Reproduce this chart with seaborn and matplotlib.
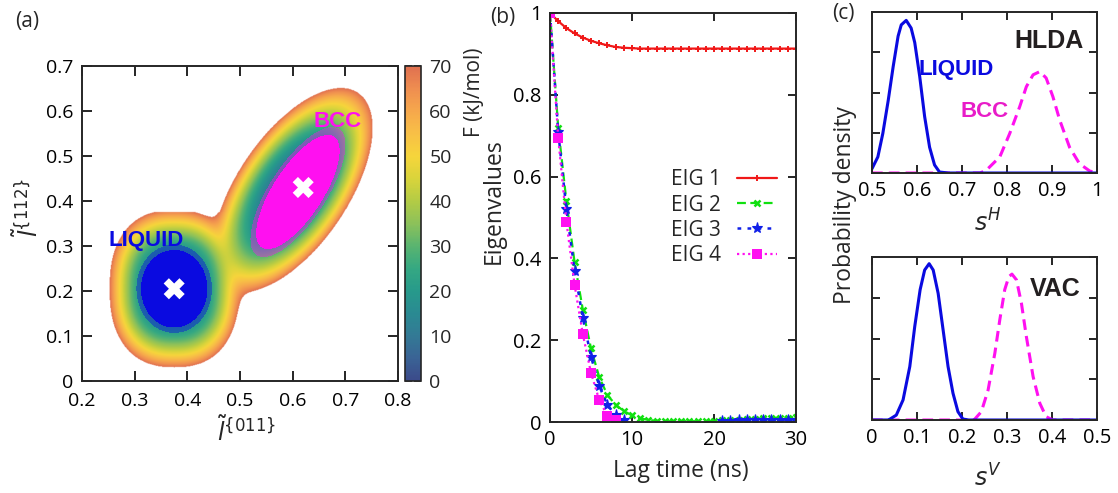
import numpy as np
import seaborn as sns
import matplotlib.pyplot as plt
from matplotlib.colors import LinearSegmentedColormap
from matplotlib.ticker import FuncFormatter, MultipleLocator

# ---------------- panel (a): free energy map, basins
fes_max = 70.0
fes_kt = 12.0                    # softness of the join between the two basins
liq_center = [0.375, 0.205]
liq_axes = [0.123, 0.175]        # semi axes where F reaches 70 kJ/mol
liq_power = 2.4                  # the liquid basin is a little squarish
liq_ytop = 0.375                 # sampled range of the liquid basin
bcc_center = [0.6, 0.425]
bcc_axes = [0.25, 0.11]
bcc_angle = 62.0
liq_cloud_axes = [0.062, 0.085]
bcc_cloud_center = [0.61, 0.42]
bcc_cloud_axes = [0.14, 0.048]
minima_x = [0.375, 0.62]
minima_y = [0.205, 0.43]
cbar_ticks = [0, 10, 20, 30, 40, 50, 60, 70]
fes_colors = ['#3b4a8a', '#3a6395', '#337a95', '#2a8a92', '#279a8b', '#35a882',
              '#5ab470', '#8cc15a', '#b3cb45', '#d9d43b', '#f6d53b', '#f8c046',
              '#f6a84c', '#ef8e50', '#e07050']

# ---------------- panel (b): eigenvalues vs lag time
lag = list(range(31))
eig1 = [1.0, 0.98, 0.963, 0.95, 0.94, 0.932, 0.926, 0.921, 0.917, 0.915, 0.914,
        0.913, 0.913, 0.913, 0.913, 0.913, 0.913, 0.913, 0.913, 0.913, 0.913,
        0.913, 0.913, 0.913, 0.913, 0.913, 0.913, 0.913, 0.913, 0.913, 0.913]
eig2 = [1.0, 0.72, 0.54, 0.39, 0.275, 0.18, 0.11, 0.066, 0.042, 0.027, 0.016,
        0.009, 0.005, 0.003, 0.002, 0.002, 0.002, 0.002, 0.002, 0.002, 0.003,
        0.004, 0.005, 0.006, 0.007, 0.008, 0.009, 0.010, 0.011, 0.011, 0.012]
eig3_lag_a = list(range(10))
eig3_a = [1.0, 0.71, 0.52, 0.37, 0.255, 0.16, 0.088, 0.042, 0.017, 0.005]
eig3_lag_b = list(range(21, 31))
eig3_b = [0.003, 0.003, 0.004, 0.004, 0.005, 0.005, 0.005, 0.006, 0.006, 0.006]
eig4_lag = list(range(9))
eig4 = [1.0, 0.695, 0.49, 0.335, 0.215, 0.12, 0.054, 0.015, 0.006]

# ---------------- panel (c): distributions (fraction of the axis height)
sh_liq_x = [0.5, 0.513, 0.524, 0.536, 0.547, 0.558, 0.565, 0.576, 0.587, 0.595,
            0.606, 0.617, 0.628, 0.639, 0.65, 0.67, 1.0]
sh_liq_y = [0.027, 0.10, 0.245, 0.45, 0.66, 0.85, 0.92, 0.948, 0.90, 0.81,
            0.60, 0.35, 0.16, 0.05, 0.006, 0.0, 0.0]
sh_bcc_x = [0.5, 0.74, 0.754, 0.784, 0.806, 0.828, 0.843, 0.858, 0.873, 0.887,
            0.902, 0.917, 0.939, 0.961, 0.984, 1.0]
sh_bcc_y = [0.0, 0.0, 0.017, 0.10, 0.245, 0.41, 0.536, 0.61, 0.63, 0.59,
            0.474, 0.33, 0.16, 0.058, 0.012, 0.002]
sv_liq_x = [0.0, 0.035, 0.039, 0.054, 0.069, 0.084, 0.095, 0.107, 0.117, 0.127,
            0.136, 0.147, 0.158, 0.169, 0.18, 0.191, 0.202, 0.215, 0.5]
sv_liq_y = [0.0, 0.0, 0.004, 0.03, 0.123, 0.328, 0.574, 0.80, 0.92, 0.959,
            0.92, 0.777, 0.553, 0.328, 0.164, 0.051, 0.006, 0.0, 0.0]
sv_bcc_x = [0.0, 0.225, 0.228, 0.243, 0.258, 0.273, 0.284, 0.295, 0.304, 0.311,
            0.321, 0.332, 0.343, 0.358, 0.373, 0.387, 0.402, 0.5]
sv_bcc_y = [0.0, 0.0, 0.004, 0.051, 0.184, 0.41, 0.615, 0.80, 0.879, 0.895,
            0.86, 0.717, 0.512, 0.266, 0.102, 0.02, 0.0, 0.0]

BLUE = '#0a0ae0'
MAGENTA = '#ff10f0'

sns.set_theme(style="ticks")
plt.rcParams['font.family'] = ['Open Sans', 'DejaVu Sans']
plt.rcParams['mathtext.fontset'] = 'dejavusans'
plt.rcParams['axes.linewidth'] = 1.4

fig = plt.figure(figsize=(11.18, 4.93), dpi=100)
W, H = 1118.0, 493.0


def box(l, t, r, b):
    return [l / W, 1 - b / H, (r - l) / W, (b - t) / H]


def style_ticks(ax, size=14, length=6, pad=5):
    ax.tick_params(direction='in', top=True, right=True, length=length, width=1.2,
                   labelsize=size, colors='black', pad=pad)


fmt = FuncFormatter(lambda v, p: f'{v:g}')


def rotated(X, Y, center, angle):
    th = np.deg2rad(angle)
    dx, dy = X - center[0], Y - center[1]
    return dx * np.cos(th) + dy * np.sin(th), -dx * np.sin(th) + dy * np.cos(th)


# ---------------- (a)
ax_a = fig.add_axes(box(82, 66, 398, 381))
cax = fig.add_axes(box(405, 66, 421, 381))

gx = np.linspace(0.2, 0.8, 481)
gy = np.linspace(0.0, 0.7, 561)
X, Y = np.meshgrid(gx, gy)
p = liq_power
r_liq = (np.abs((X - liq_center[0]) / liq_axes[0]) ** p +
         np.abs((Y - liq_center[1]) / liq_axes[1]) ** p) ** (2 / p)
f_liq = fes_max * r_liq
f_liq[Y > liq_ytop] = np.inf
u, v = rotated(X, Y, bcc_center, bcc_angle)
f_bcc = fes_max * ((u / bcc_axes[0]) ** 2 + (v / bcc_axes[1]) ** 2)
fes = -fes_kt * np.log(np.exp(-f_liq / fes_kt) + np.exp(-f_bcc / fes_kt))
fes = np.minimum(fes, np.minimum(f_liq, f_bcc))
fes = np.clip(fes, 0, None)
fes = np.where(fes > fes_max, np.nan, fes)

cmap = LinearSegmentedColormap.from_list('fes', fes_colors)
cmap.set_bad('white')
im = ax_a.imshow(fes, extent=[0.2, 0.8, 0.0, 0.7], origin='lower', cmap=cmap,
                 vmin=0, vmax=fes_max, aspect='auto', interpolation='bilinear')

# sampled configurations of each basin, drawn as filled clouds
d_liq = (((X - liq_center[0]) / liq_cloud_axes[0]) ** 2 +
         ((Y - liq_center[1]) / liq_cloud_axes[1]) ** 2)
cu, cv = rotated(X, Y, bcc_cloud_center, bcc_angle)
d_bcc = (cu / bcc_cloud_axes[0]) ** 2 + (cv / bcc_cloud_axes[1]) ** 2
for d, col in [(d_liq, BLUE), (d_bcc, MAGENTA)]:
    ax_a.contourf(X, Y, d, levels=[0, 1.0], colors=[col])
    ax_a.contourf(X, Y, d, levels=[1.0, 1.3], colors=[col], alpha=0.4)
sns.scatterplot(x=minima_x, y=minima_y, marker='X', s=230, color='white',
                edgecolor='none', ax=ax_a, zorder=5)

ax_a.set_xlim(0.2, 0.8)
ax_a.set_ylim(0.0, 0.7)
ax_a.xaxis.set_major_locator(MultipleLocator(0.1))
ax_a.yaxis.set_major_locator(MultipleLocator(0.1))
ax_a.xaxis.set_major_formatter(fmt)
ax_a.yaxis.set_major_formatter(fmt)
style_ticks(ax_a, length=7)
ax_a.tick_params(axis='x', pad=8)
ax_a.tick_params(axis='y', pad=6)
ax_a.set_xlabel(r'$\tilde{l}^{\{011\}}$', fontsize=17)
ax_a.set_ylabel(r'$\tilde{l}^{\{112\}}$', fontsize=17)
ax_a.xaxis.set_label_coords(0.52, -0.115)
ax_a.yaxis.set_label_coords(-0.12, 0.55)
ax_a.text(0.3215, 0.313, 'LIQUID', color=BLUE, fontsize=16, fontweight='bold',
          family='Liberation Sans', ha='center', va='center')
ax_a.text(0.686, 0.576, 'BCC', color=MAGENTA, fontsize=16, fontweight='bold',
          family='Liberation Sans', ha='center', va='center')

cb = fig.colorbar(im, cax=cax, ticks=cbar_ticks)
cb.outline.set_linewidth(1.2)
cax.tick_params(direction='in', left=True, right=True, length=5, width=1.2,
                labelsize=14, pad=6)
fig.text(474 / W, 1 - 92 / H, 'F (kJ/mol)', rotation=90, fontsize=15,
         ha='center', va='center')
fig.text(27 / W, 1 - 22 / H, '(a)', fontsize=15, ha='center', va='center')

# ---------------- (b)
ax_b = fig.add_axes(box(550, 13, 796, 422))
sns.lineplot(x=lag, y=eig1, ax=ax_b, color='#f01818', linewidth=1.6, marker='+',
             markersize=5, markeredgewidth=1.4, markeredgecolor='#f01818', label='EIG 1')
sns.lineplot(x=lag, y=eig2, ax=ax_b, color='#10e010', linewidth=1.6, linestyle=(0, (4, 2)),
             marker='x', markersize=5, markeredgewidth=1.8, markeredgecolor='#10e010',
             label='EIG 2')
for xs, ys, lab in [(eig3_lag_a, eig3_a, 'EIG 3'), (eig3_lag_b, eig3_b, '_nolegend_')]:
    sns.lineplot(x=xs, y=ys, ax=ax_b, color='#1020e8', linewidth=1.8,
                 linestyle=(0, (1.5, 2.5)), marker='*', markersize=8, markeredgewidth=0.8,
                 markeredgecolor='#1020e8', label=lab)
sns.lineplot(x=eig4_lag, y=eig4, ax=ax_b, color=MAGENTA, linewidth=1.6,
             linestyle=(0, (1, 1.5)), marker='s', markersize=7, markeredgewidth=0,
             markeredgecolor=MAGENTA, label='EIG 4')
ax_b.set_xlim(0, 30)
ax_b.set_ylim(0, 1)
ax_b.xaxis.set_major_locator(MultipleLocator(10))
ax_b.yaxis.set_major_locator(MultipleLocator(0.2))
ax_b.yaxis.set_major_formatter(fmt)
style_ticks(ax_b, size=14.5, pad=6)
ax_b.set_xlabel('Lag time (ns)', fontsize=16.5)
ax_b.set_ylabel('Eigenvalues', fontsize=16.5)
ax_b.xaxis.set_label_coords(0.53, -0.09)
ax_b.yaxis.set_label_coords(-0.178, 0.54)
ax_b.legend(loc='upper right', bbox_to_anchor=(0.965, 0.643), frameon=False,
            markerfirst=False, fontsize=15, handlelength=1.9, handletextpad=0.8,
            labelspacing=0.2, borderpad=0)
fig.text(503 / W, 1 - 18 / H, '(b)', fontsize=15, ha='center', va='center')

# ---------------- (c)
ax_t = fig.add_axes(box(872, 12, 1097, 173))
ax_v = fig.add_axes(box(872, 257, 1097, 420))
for ax, xl, liq, bcc, lab in [
        (ax_t, (0.5, 1.0), (sh_liq_x, sh_liq_y), (sh_bcc_x, sh_bcc_y), r'$s^H$'),
        (ax_v, (0.0, 0.5), (sv_liq_x, sv_liq_y), (sv_bcc_x, sv_bcc_y), r'$s^V$')]:
    sns.lineplot(x=bcc[0], y=bcc[1], ax=ax, color=MAGENTA, linewidth=2.2,
                 linestyle=(0, (3.5, 2)))
    sns.lineplot(x=liq[0], y=liq[1], ax=ax, color=BLUE, linewidth=2.2)
    ax.set_xlim(*xl)
    ax.set_ylim(0, 1)
    ax.xaxis.set_major_locator(MultipleLocator(0.1))
    ax.yaxis.set_major_locator(MultipleLocator(0.25))
    ax.xaxis.set_major_formatter(fmt)
    ax.set_yticklabels([])
    style_ticks(ax, size=14.5, pad=6)
    ax.set_xlabel(lab, fontsize=17)
    ax.set_ylabel('')

ax_t.xaxis.set_label_coords(0.515, -0.23)
ax_v.xaxis.set_label_coords(0.515, -0.28)
ax_t.text(0.787, 0.82, 'HLDA', transform=ax_t.transAxes, fontsize=18, fontweight='bold',
          family='Liberation Sans', color='#231f20', ha='center', va='center')
ax_t.text(0.375, 0.64, 'LIQUID', transform=ax_t.transAxes, fontsize=16, fontweight='bold',
          family='Liberation Sans', color=BLUE, ha='center', va='center')
ax_t.text(0.502, 0.379, 'BCC', transform=ax_t.transAxes, fontsize=16, fontweight='bold',
          family='Liberation Sans', color='#e81cc8', ha='center', va='center')
ax_v.text(0.813, 0.804, 'VAC', transform=ax_v.transAxes, fontsize=18, fontweight='bold',
          family='Liberation Sans', color='#231f20', ha='center', va='center')
fig.text(845 / W, 1 - 205 / H, 'Probability density', rotation=90, fontsize=16.5,
         ha='center', va='center')
fig.text(843 / W, 1 - 13 / H, '(c)', fontsize=15, ha='center', va='center')

fig.savefig('out.png', dpi=100, facecolor='white')
